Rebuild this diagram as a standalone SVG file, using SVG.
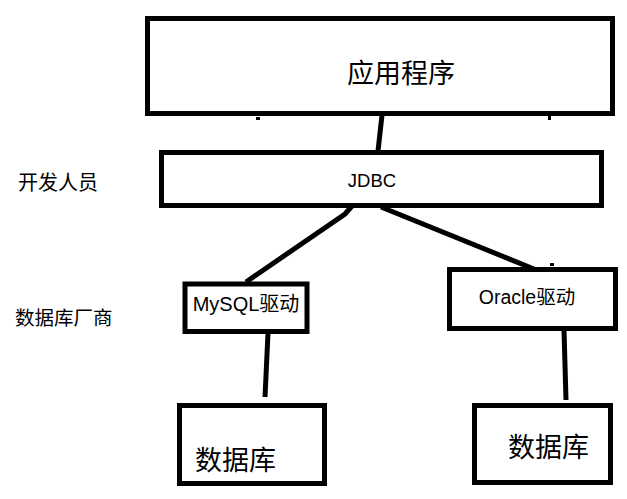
<svg xmlns="http://www.w3.org/2000/svg" width="627" height="499" viewBox="0 0 627 499">
<style>
.box{fill:#fff;stroke:#000;stroke-width:5}
.t{font-family:"Liberation Sans","Noto Sans CJK SC",sans-serif;fill:#000}
.c{stroke:#000;stroke-width:5;stroke-linecap:butt;fill:none}
.m{fill:#000}
</style>
<rect width="627" height="499" fill="#fff"/>
<g id="connectors">
<line class="c" x1="382" y1="115" x2="378" y2="151"/>
<polyline class="c" points="352,206 345,214 246,282"/>
<line class="c" x1="381" y1="207" x2="534" y2="269"/>
<line class="c" x1="268" y1="333" x2="265" y2="397"/>
<line class="c" x1="564" y1="330" x2="566" y2="400"/>
</g>
<g id="marks">
<rect class="m" x="256" y="117" width="4" height="3"/>
<rect class="m" x="548" y="116" width="3" height="4"/>
<rect class="m" x="550" y="263" width="4" height="3"/>
<rect class="m" x="247" y="280" width="4" height="3"/>
</g>
<g id="app">
<rect class="box" x="147.5" y="18.5" width="465" height="95"/>
<text class="t" x="401" y="83" font-size="27" text-anchor="middle">应用程序</text>
</g>
<g id="jdbc">
<rect class="box" x="161.5" y="152.5" width="440" height="53"/>
<text class="t" x="372" y="187" font-size="18.5" text-anchor="middle">JDBC</text>
</g>
<g id="devs">
<text class="t" x="18" y="190" font-size="20">开发人员</text>
</g>
<g id="vendors">
<text class="t" x="15" y="325" font-size="19.5">数据库厂商</text>
</g>
<g id="mysql">
<rect class="box" x="185" y="284" width="122" height="47.5"/>
<text class="t" x="246" y="311" font-size="20" text-anchor="middle">MySQL驱动</text>
</g>
<g id="oracle">
<rect class="box" x="449.5" y="269.5" width="166" height="59"/>
<text class="t" x="527" y="304" font-size="19.5" text-anchor="middle">Oracle驱动</text>
</g>
<g id="db1">
<rect class="box" x="179.5" y="405.5" width="145" height="78"/>
<text class="t" x="195" y="470" font-size="27">数据库</text>
</g>
<g id="db2">
<rect class="box" x="474.5" y="405.5" width="136" height="77"/>
<text class="t" x="508" y="457" font-size="27">数据库</text>
</g>
</svg>
